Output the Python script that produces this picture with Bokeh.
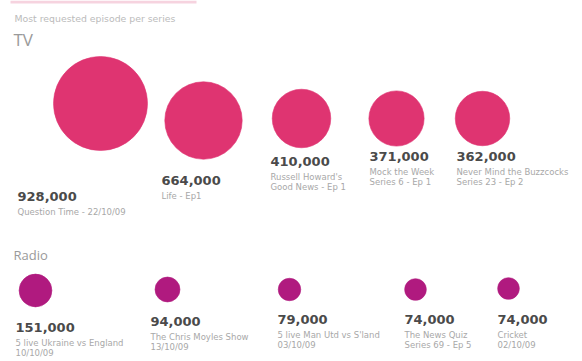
from bokeh.plotting import figure
from bokeh.models import Range1d, ColumnDataSource
from bokeh.core.properties import value
from bokeh.embed import file_html
from bokeh.resources import INLINE

# ---- data ----
title_text = "Most requested episode per series"
tv_values = [928000, 664000, 410000, 371000, 362000]
tv_shows = ["Question Time - 22/10/09", "Life - Ep1",
            "Russell Howard's\nGood News - Ep 1", "Mock the Week\nSeries 6 - Ep 1",
            "Never Mind the Buzzcocks\nSeries 23 - Ep 2"]
radio_values = [151000, 94000, 79000, 74000, 74000]
radio_shows = ["5 live Ukraine vs England\n10/10/09", "The Chris Moyles Show\n13/10/09",
               "5 live Man Utd vs S'land\n03/10/09", "The News Quiz\nSeries 69 - Ep 5",
               "Cricket\n02/10/09"]

# ---- layout (pixel positions) ----
tv_x = [100, 203, 301, 396, 482]
tv_cy = [103, 120, 118, 118, 118]
tv_lx = [17, 161, 270, 369, 456]
tv_ly = [191, 175, 156, 151, 151]
radio_x = [35, 167, 289, 415, 508]
radio_cy = [290, 289, 289, 289, 288]
radio_lx = [15, 150, 277, 404, 497]
radio_ly = [322, 316, 314, 314, 314]

TV_COLOR = "#DF3471"
RADIO_COLOR = "#B01A7F"
MAX_R = 47.0
VMAX = max(tv_values)


def diam(v):
    return 2 * MAX_R * (v / VMAX) ** 0.58


p = figure(width=582, height=361, output_backend="svg", toolbar_location=None,
           x_range=Range1d(0, 582), y_range=Range1d(361, 0), min_border=0)
p.axis.visible = False
p.grid.visible = False
p.outline_line_color = None
p.background_fill_color = "white"

# top decorative bar
p.quad(left=[10], right=[196], top=[0], bottom=[3], fill_color="#F6D3DF", line_color=None)

p.text(x=[14], y=[12], text=[title_text], text_font=value("DejaVu Sans"),
       text_font_size="7pt", text_color="#BBBBBB", text_baseline="top")
p.text(x=[13], y=[27], text=["TV"], text_font=value("Open Sans"),
       text_font_size="17px", text_color="#9A9A9A", text_baseline="top")
p.text(x=[13], y=[245], text=["Radio"], text_font=value("Open Sans"),
       text_font_size="13px", text_color="#9A9A9A", text_baseline="top")


def add_group(values, shows, xs, cys, lxs, lys, color):
    src = ColumnDataSource(dict(x=xs, y=cys, s=[diam(v) for v in values]))
    p.scatter("x", "y", size="s", source=src, fill_color=color, line_color=color,
              line_alpha=0.6)
    nums = [f"{v:,}" for v in values]
    p.text(x=lxs, y=lys, text=nums, text_font=value("DejaVu Sans"),
           text_font_size="13px", text_font_style="bold", text_color="#4A4A4A",
           text_baseline="top")
    lx, ly, lt = [], [], []
    for x0, y0, s in zip(lxs, lys, shows):
        for i, line in enumerate(s.split("\n")):
            lx.append(x0)
            ly.append(y0 + 15 + i * 10)
            lt.append(line)
    p.text(x=lx, y=ly, text=lt, text_font=value("DejaVu Sans"),
           text_font_size="8.5px", text_color="#A8A8A8", text_baseline="top")


add_group(tv_values, tv_shows, tv_x, tv_cy, tv_lx, tv_ly, TV_COLOR)
add_group(radio_values, radio_shows, radio_x, radio_cy, radio_lx, radio_ly, RADIO_COLOR)

open("out.html", "w").write(file_html(p, INLINE))
